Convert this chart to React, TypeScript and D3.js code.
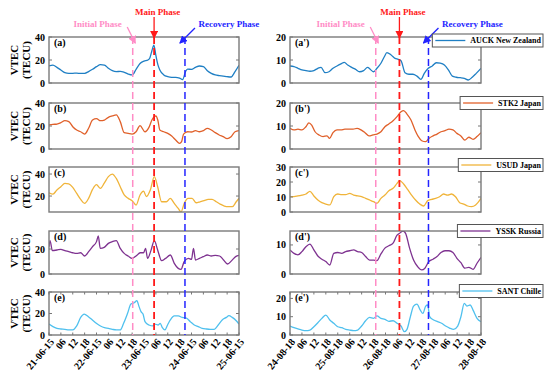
import * as d3 from 'd3';
import { useEffect, useRef } from 'react';

// [hours since first day 00 UT, VTEC in TECU]
const auck15 = [[0,14.8],[2,15.6],[4,13.6],[6,11.3],[8,9],[10,8.4],[12,8.4],[14,8.6],[16,8.3],[18,8.4],[20,9.9],[22,11.9],[24,14.2],[26,16],[28,15.6],[30,12.8],[32,10.7],[34,9.9],[36,10.1],[38,9.3],[40,7.8],[42,7],[44,11.9],[46,17],[48,19],[50,20],[51,22],[52,28],[53,33],[54,24],[55,16],[56,11.3],[58,7],[60,5.5],[62,4.9],[64,4.9],[66,4.2],[67.5,3],[69,10],[70,12],[72,11.9],[74,13.6],[76,14.8],[78,14.2],[80,10.7],[82,8.4],[84,7],[86,6.4],[88,6],[90,5.5],[92,5.2],[94,9.9],[96,15.4]];
const stk215 = [[0,20.9],[2,21.4],[4,21.7],[6,22.9],[8,24.6],[10,23.8],[12,19.4],[14,16.5],[16,15],[18,13],[20,18],[22,25.2],[24,26.4],[26,24.6],[28,25.2],[30,27.5],[32,28.7],[34,29.6],[36,23.8],[38,14.2],[40,13.6],[42,13],[44,15],[46,20.3],[48.5,15],[50.5,18.8],[52,25.2],[54,28.7],[55,25],[56,16.5],[58,15],[60,13.6],[62,11.3],[64,7.8],[66,4.9],[67,6.4],[68,13],[70,15],[72,14.8],[74,15.9],[76,15],[78,15.9],[80,18],[82,16.5],[84,14.2],[86,12.2],[88,10.7],[90,9],[92,10.7],[94,15],[96,15.9]];
const usud15 = [[0,23],[2,21.8],[4,25.5],[6,28.5],[8,31.5],[10,31],[12,27.9],[14,22.4],[16,17],[18,13.3],[20,17.9],[22,26],[24,30.3],[26,27],[28,32],[30,37.6],[32,40],[34,36],[36,28.5],[38,21],[40,17.9],[42,15.8],[44,11.8],[46,21],[47.8,24.5],[49.2,19.4],[51.2,25.5],[53.2,37.6],[54.9,28.5],[56.9,14.8],[59.3,14.8],[61.3,17.9],[63.3,13.3],[65.3,8.8],[66.7,5.5],[68.3,13.3],[70.3,17.9],[72.3,17.9],[74.4,13.9],[76.3,14.8],[78.4,15.8],[80.4,17],[82.4,17],[84.5,14.8],[86.5,12.7],[88.6,10.9],[90.6,10.3],[92.6,10.3],[94.6,14.8],[96,17.9]];
const yssk15 = [[0,21.9],[0.5,26.7],[1.7,18.7],[4,19.2],[6,19.7],[8,18.7],[10,17.9],[12,17],[14,16.5],[16,17],[18,14.4],[20,17.9],[22,21.9],[24,25.9],[24.9,30.4],[25.9,20.5],[27.9,21.3],[30,24.5],[32,25.9],[34,26.7],[36,20.5],[38,16.5],[40,14.4],[42,12.5],[44,14.4],[46.1,17],[47.8,17],[48.8,20.5],[49.8,12.5],[51.5,18.7],[53.2,26.7],[54.9,19.2],[56.9,10.7],[58.9,12.5],[61.3,15.2],[63.3,8.5],[65.3,4.5],[66.7,3.7],[68.3,9.9],[70.4,12.5],[72,11.7],[73,20.5],[74,11.2],[76,12.5],[78,13.9],[80,15.2],[82,14.4],[84,14.9],[86.2,14.4],[88.2,11.2],[90.2,8],[92.3,10.7],[94.3,13.9],[96,14.9]];
const sant15 = [[0,10.2],[2,7.8],[4,6.2],[6,5.6],[8,5.3],[10,4.7],[12,4.7],[14,8.4],[16,16.4],[17.8,19.5],[19.9,17],[21.9,14],[23.9,10.9],[26,8.4],[28,6.8],[30,6.2],[32,5.3],[34,4.7],[36,4.7],[37.7,10.9],[39.7,20.2],[41.4,28.8],[43.1,30],[44.4,32],[45.5,26.4],[46.5,21.7],[47.5,19.5],[48.5,12.4],[50.5,9.3],[52.5,8.4],[53.5,10.2],[55.2,9.3],[56.2,10.9],[57.2,7.1],[58.6,4.7],[59.9,9.3],[61.3,14],[63.3,17.7],[65.3,17.7],[67.3,16.4],[69.4,15.8],[71.4,12.4],[73.4,9.3],[75.4,7.8],[77.4,6.2],[79.5,5.6],[81.5,5.3],[83.5,5.3],[85.5,9.3],[87.5,14],[89.6,16.4],[90.9,18],[92.6,16.4],[94.6,13.3],[96,10.2]];

const auck18 = [[0,7.4],[2,7.1],[4,6.4],[6,5.7],[8,5.4],[10,5.1],[12,5.4],[14,6.4],[15.6,6.8],[17.6,4.5],[19.6,4.9],[21.6,6.4],[23.6,7.4],[25.6,8.3],[27.3,9],[29,7.8],[31,6.8],[33,5.9],[35,4.9],[37,5.4],[39,6.8],[40.4,5.9],[42,4.9],[43.7,6.4],[45.7,8.6],[47.4,11.4],[48.7,13.2],[50.8,12.2],[52.8,10.7],[54.4,10.3],[55.8,9.7],[57.8,4.5],[59.8,3.8],[61.8,3.8],[63.8,3],[65.8,1.6],[67.5,4.2],[69.5,6.4],[71.5,7.4],[73.5,8.8],[75.5,8.6],[77.6,7.8],[79.6,5.7],[81.6,3],[83.6,2.5],[85.6,2.3],[87.6,2],[89.6,1.3],[91.6,2.5],[93.6,4.2],[96,6.4]];
const stk218 = [[0,9],[2,8.3],[4,8.6],[6,8.3],[8,9.7],[9.5,11.4],[10.9,10.4],[12.6,7.5],[14.6,6.1],[16.6,5.4],[18.6,5.7],[19.9,4.6],[21.6,7.1],[23.6,8.3],[25.6,8.3],[27.6,8.6],[29.6,8.6],[31.7,8.6],[33.7,9],[35.7,8.3],[37.7,7.1],[39.7,5.7],[41.7,6.1],[43.7,6.5],[45.7,7.5],[47.7,9.7],[49.7,10.9],[51.8,12.3],[53.8,14.1],[55.8,16.2],[57.1,16.7],[58.8,15.2],[60.8,12.6],[62.8,8.3],[64.5,5.4],[66.2,3.6],[68.2,3.2],[69.8,4.6],[71.9,5.7],[73.9,6.5],[75.9,7.5],[77.9,8],[79.9,8.6],[81.9,8.3],[83.9,6.8],[85.9,5.7],[87.9,3.9],[89.9,5.1],[92,4.2],[94,5.4],[96,7.1]];
const usud18 = [[0,10.2],[2,10.2],[4,10.7],[6,11.3],[8,12],[10,13.8],[12,10.7],[14,8],[16,6.2],[18,5.3],[20,4.7],[22,10.2],[24,12],[26,11.6],[28,11.6],[30,12.4],[32,11.3],[34,10.7],[36,10.2],[38,9.1],[40,8],[42,6.9],[43.7,5.8],[45.7,9.1],[47.7,11.3],[49.7,14.2],[51.8,15.8],[53.8,19.1],[55.1,20.9],[57.1,18.7],[59.1,15.1],[61.1,11.3],[63.1,8],[65.2,5.3],[67.2,4],[69.2,7.6],[71.2,8.4],[73.2,9.1],[75.2,10.2],[77.2,12],[79.2,11.3],[81.2,12],[83.2,10.2],[85.3,6.2],[87.3,5.3],[89.3,4],[91.3,3.6],[93.3,4.7],[96,9.1]];
const yssk18 = [[0,8.3],[2,7.1],[4,6.6],[6,7.7],[8,9.4],[10,10.3],[12,8.3],[14,6.2],[16,5.1],[18,4.3],[20,3.1],[22,7.1],[24,7.4],[26,7.1],[28,7.7],[30,8],[32,8.3],[34,7.7],[36,7.4],[38,6],[40,4.8],[42,4.8],[43.7,4.6],[45.7,6.9],[47.7,8.9],[49.7,9.7],[51.8,10.6],[53.8,13.4],[55.1,14],[56.8,14.8],[58.1,14],[60.1,8.9],[62.1,4.8],[64.2,2.5],[66.2,1.4],[67.8,2],[69.8,4.3],[71.9,5.1],[73.9,6],[75.9,7.4],[77.9,8],[79.9,8],[81.9,7.4],[83.9,5.4],[85.9,3.9],[87.9,2],[89.9,2.3],[92,1.6],[94,3.7],[96,5.7]];
const sant18 = [[0,4.9],[2,4],[4,3.3],[6,2.7],[8,2.4],[10,2.7],[12,4.5],[14,6.7],[16,9.1],[18,10.9],[20,8.2],[22,6.4],[24,4.5],[26,4],[28,3.1],[30,2.7],[32,2.4],[34,2.7],[36,4.9],[38,7.8],[40,9.6],[42,9.1],[43.7,10.4],[45.7,9.1],[47.7,8.5],[49.7,7.5],[51.8,7.8],[53.8,6.4],[55.8,4.9],[57.5,1.8],[58.8,3.1],[60.5,10],[62.1,15.8],[63.8,16.9],[65.5,13.6],[66.8,11.8],[68.2,15.8],[69.2,16.4],[70.2,10],[72.2,8.2],[74.2,7.3],[76.2,6.4],[78.2,4.9],[80.2,3.8],[82.2,3.1],[84.3,4.9],[85.9,10],[87.6,17.3],[88.9,15.8],[90.6,16.4],[92,13.6],[94,9.1],[96,7.3]];

const stations = ['AUCK New Zealand', 'STK2 Japan', 'USUD Japan', 'YSSK Russia', 'SANT Chille'];
const colors = ['#1f7fc4', '#e0602a', '#f0b43a', '#7e3290', '#4fc0ee'];
const tags15 = ['(a)', '(b)', '(c)', '(d)', '(e)'];
const tags18 = ["(a')", "(b')", "(c')", "(d')", "(e')"];
const yDomain15 = [[0, 40], [0, 40], [5.5, 46.4], [0, 34.4], [0, 40]];
const yTicks15 = [[0, 20, 40], [0, 20, 40], [20, 40], [0, 20], [0, 20, 40]];
const yDomain18 = [[0, 20], [0, 20], [0, 30], [0, 14.8], [0, 23.5]];
const yTicks18 = [[0, 10, 20], [0, 10, 20], [0, 10, 20, 30], [0, 10], [0, 10, 20]];
const days15 = ['21-06-15', '22-06-15', '23-06-15', '24-06-15', '25-06-15'];
const days18 = ['24-08-18', '25-08-18', '26-08-18', '27-08-18', '28-08-18'];
const hourLabels = ['06', '12', '18'];
// initial, main, recovery phase onset (hours)
const phases15 = [42.3, 53.1, 68.7];
const phases18 = [43.1, 55.0, 69.6];
const phaseNames = ['Initial Phase', 'Main Phase', 'Recovery Phase'];
const phaseColors = ['#ff8cc6', '#ff1a1a', '#2424ff'];

const FONT = "'Liberation Serif', 'Times New Roman', serif";

export default function App() {
    const svgRef = useRef<SVGSVGElement>(null);

    useEffect(() => {
        if (!svgRef.current) return;
        const svg = d3.select(svgRef.current);
        svg.selectAll('*').remove();

        const tops = [37, 103, 167, 231, 292];
        const bots = [83, 149, 212, 274, 335];
        const legendDy = [3.5, 0, -2, 0, -1];

        const defs = svg.append('defs');
        phaseColors.forEach((c, i) => {
            defs.append('marker')
                .attr('id', 'arr' + i)
                .attr('markerUnits', 'userSpaceOnUse')
                .attr('markerWidth', 8)
                .attr('markerHeight', 8)
                .attr('refX', 7)
                .attr('refY', 4)
                .attr('orient', 'auto')
                .append('path')
                .attr('d', 'M0,0 L8,4 L0,8 Z')
                .attr('fill', c);
        });

        const drawColumn = (
            x0: number,
            x1: number,
            series: number[][][],
            domains: number[][],
            ticks: number[][],
            tags: string[],
            days: string[],
            phases: number[],
            left: boolean,
            id: string
        ) => {
            const x = d3.scaleLinear().domain([0, 96]).range([x0, x1]);
            const g = svg.append('g');

            series.forEach((data, i) => {
                const y = d3.scaleLinear().domain(domains[i]).range([bots[i], tops[i]]);
                const cid = 'clip' + id + i;
                defs.append('clipPath').attr('id', cid)
                    .append('rect').attr('x', x0).attr('y', tops[i]).attr('width', x1 - x0).attr('height', bots[i] - tops[i]);

                g.append('rect')
                    .attr('x', x0).attr('y', tops[i]).attr('width', x1 - x0).attr('height', bots[i] - tops[i])
                    .attr('fill', '#fff');

                const line = d3.line<number[]>()
                    .x((d) => x(d[0]))
                    .y((d) => y(d[1]))
                    .curve(d3.curveMonotoneX);
                g.append('path')
                    .datum(data)
                    .attr('clip-path', `url(#${cid})`)
                    .attr('d', line)
                    .attr('fill', 'none')
                    .attr('stroke', colors[i])
                    .attr('stroke-width', 1.3);

                // y ticks both sides
                ticks[i].forEach((t) => {
                    const ty = y(t);
                    g.append('line').attr('x1', x0).attr('x2', x0 + 3).attr('y1', ty).attr('y2', ty).attr('stroke', '#777');
                    g.append('line').attr('x1', x1).attr('x2', x1 - 3).attr('y1', ty).attr('y2', ty).attr('stroke', '#777');
                    g.append('text')
                        .attr('x', x0 - 4).attr('y', ty).attr('dy', '0.35em')
                        .attr('text-anchor', 'end')
                        .attr('font-family', FONT).attr('font-weight', 'bold').attr('font-size', 10)
                        .text(t);
                });

                g.append('rect')
                    .attr('x', x0).attr('y', tops[i]).attr('width', x1 - x0).attr('height', bots[i] - tops[i])
                    .attr('fill', 'none').attr('stroke', '#7a7a7a').attr('stroke-width', 1.4);

                g.append('text')
                    .attr('x', x0 + 5).attr('y', tops[i] + 9)
                    .attr('font-family', FONT).attr('font-weight', 'bold').attr('font-size', 10)
                    .text(tags[i]);

                if (left) {
                    const cy = (tops[i] + bots[i]) / 2;
                    g.append('text')
                        .attr('transform', `translate(18,${cy}) rotate(-90)`)
                        .attr('text-anchor', 'middle')
                        .attr('font-family', FONT).attr('font-weight', 'bold').attr('font-size', 11)
                        .text('VTEC');
                    g.append('text')
                        .attr('transform', `translate(30,${cy}) rotate(-90)`)
                        .attr('text-anchor', 'middle')
                        .attr('font-family', FONT).attr('font-weight', 'bold').attr('font-size', 11)
                        .text('(TECU)');
                } else {
                    const cy = tops[i] + legendDy[i];
                    const lg = svg.append('g');
                    const txt = lg.append('text')
                        .attr('x', 541).attr('y', cy).attr('dy', '0.35em')
                        .attr('text-anchor', 'end')
                        .attr('font-family', FONT).attr('font-weight', 'bold').attr('font-size', 8)
                        .text(stations[i]);
                    const len = (txt.node() as SVGTextElement).getComputedTextLength();
                    const bx = 541 - len - 38;
                    lg.insert('rect', 'text')
                        .attr('x', bx).attr('y', cy - 6.5).attr('width', 543 - bx).attr('height', 13)
                        .attr('fill', '#fff').attr('stroke', '#555').attr('stroke-width', 1);
                    lg.append('line')
                        .attr('x1', bx + 3).attr('x2', bx + 33).attr('y1', cy).attr('y2', cy)
                        .attr('stroke', colors[i]).attr('stroke-width', 1.3);
                }
            });

            // x ticks & labels on the bottom panel
            const tickHours = d3.range(0, 97, 6);
            const eTop = tops[4], eBot = bots[4];
            tickHours.forEach((h) => {
                const tx = x(h);
                g.append('line').attr('x1', tx).attr('x2', tx).attr('y1', eBot).attr('y2', eBot - 2.5).attr('stroke', '#777');
                g.append('line').attr('x1', tx).attr('x2', tx).attr('y1', eTop).attr('y2', eTop + 2.5).attr('stroke', '#777');
                const label = h % 24 === 0 ? days[h / 24] : hourLabels[(h % 24) / 6 - 1];
                g.append('text')
                    .attr('transform', `translate(${tx + 3},${eBot + 5}) rotate(-50)`)
                    .attr('text-anchor', 'end')
                    .attr('dy', '0.35em')
                    .attr('font-family', FONT).attr('font-weight', 'bold').attr('font-size', 10)
                    .text(label);
            });

            // phase lines and annotations
            phases.forEach((p, k) => {
                const px = x(p);
                g.append('line')
                    .attr('x1', px).attr('x2', px).attr('y1', tops[0]).attr('y2', bots[4])
                    .attr('stroke', phaseColors[k])
                    .attr('stroke-width', k === 1 ? 1.8 : 1.5)
                    .attr('stroke-dasharray', '7,4');
                let a: number[];
                let tx: number;
                let ty: number;
                if (k === 0) {
                    a = [px - 5.5, 27, px + 2.5, 43];
                    tx = px - 35;
                    ty = 27;
                } else if (k === 1) {
                    a = [px, 17, px, 38];
                    tx = px + 3.5;
                    ty = 15;
                } else {
                    a = [px + 10, 28, px - 5, 43];
                    tx = px + 44;
                    ty = 26.5;
                }
                g.append('line')
                    .attr('x1', a[0]).attr('y1', a[1]).attr('x2', a[2]).attr('y2', a[3])
                    .attr('stroke', phaseColors[k]).attr('stroke-width', 1.3)
                    .attr('marker-end', `url(#arr${k})`);
                g.append('text')
                    .attr('x', tx).attr('y', ty)
                    .attr('text-anchor', 'middle')
                    .attr('font-family', FONT).attr('font-weight', 'bold').attr('font-size', 9)
                    .attr('fill', phaseColors[k])
                    .text(phaseNames[k]);
            });
        };

        drawColumn(49, 239, [auck15, stk215, usud15, yssk15, sant15], yDomain15, yTicks15, tags15, days15, phases15, true, 'l');
        drawColumn(290, 481, [auck18, stk218, usud18, yssk18, sant18], yDomain18, yTicks18, tags18, days18, phases18, false, 'r');
    }, []);

    return (
        <svg
            ref={svgRef}
            width={550}
            height={380}
            style={{ position: 'absolute', left: 0, top: 0, background: '#fff' }}
        />
    );
}
